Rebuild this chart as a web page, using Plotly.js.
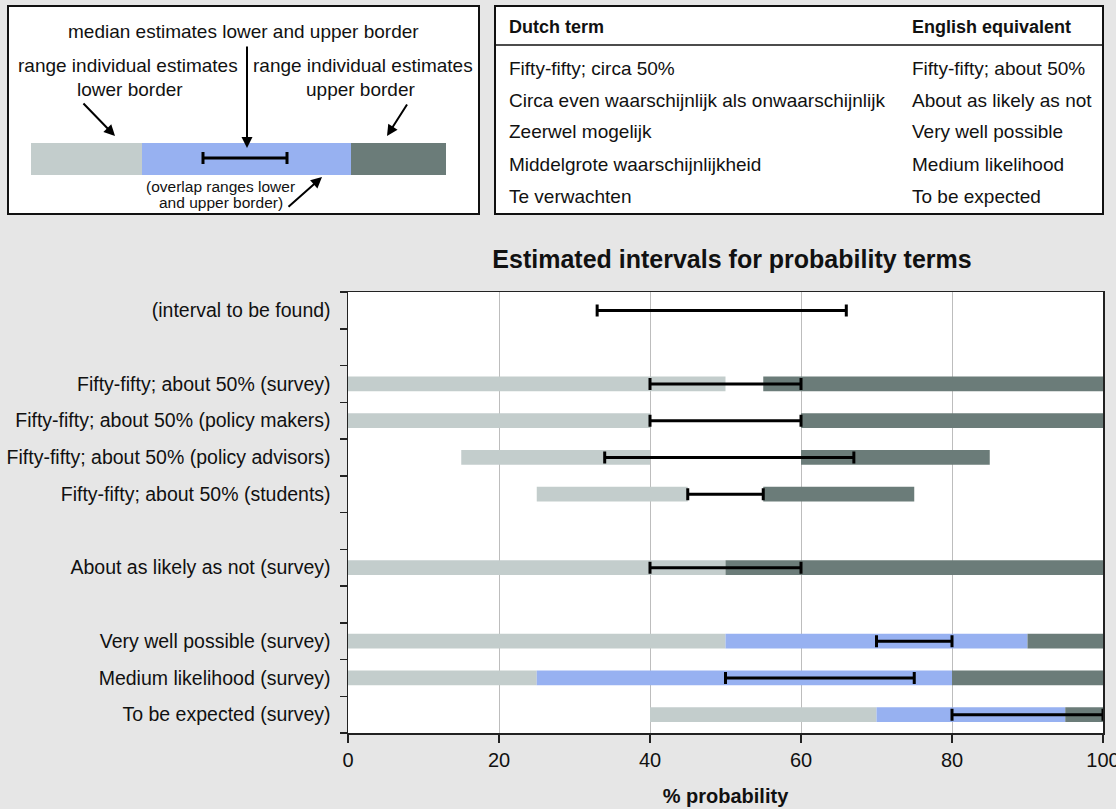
<!DOCTYPE html>
<html>
<head>
<meta charset="utf-8">
<script src="https://cdn.plot.ly/plotly-3.0.1.min.js"></script>
<style>
  html, body { margin: 0; padding: 0; background: #e6e6e6; }
  #chart { width: 1116px; height: 809px; }
</style>
</head>
<body>
<div id="chart"></div>
<script>
// ---------- data ----------
const categories = [
  "(interval to be found)",
  "",
  "Fifty-fifty; about 50% (survey)",
  "Fifty-fifty; about 50% (policy makers)",
  "Fifty-fifty; about 50% (policy advisors)",
  "Fifty-fifty; about 50% (students)",
  "",
  "About as likely as not (survey)",
  "",
  "Very well possible (survey)",
  "Medium likelihood (survey)",
  "To be expected (survey)"
];
// range of individual estimates for the lower border
const lowerMin = [null, null, 0, 0, 15, 25, null, 0, null, 0, 0, 40];
const lowerMax = [null, null, 50, 40, 40, 45, null, 50, null, 90, 80, 95];
// range of individual estimates for the upper border
const upperMin = [null, null, 55, 60, 60, 55, null, 50, null, 50, 25, 70];
const upperMax = [null, null, 100, 100, 85, 75, null, 100, null, 100, 100, 100];
// median estimates lower and upper border
const medianLow  = [33, null, 40, 40, 34, 45, null, 40, null, 70, 50, 80];
const medianHigh = [66, null, 60, 60, 67, 55, null, 60, null, 80, 75, 100];

const xTicks = [0, 20, 40, 60, 80, 100];

const tableDutch = ["Fifty-fifty; circa 50%", "Circa even waarschijnlijk als onwaarschijnlijk",
  "Zeerwel mogelijk", "Middelgrote waarschijnlijkheid", "Te verwachten"];
const tableEnglish = ["Fifty-fifty; about 50%", "About as likely as not",
  "Very well possible", "Medium likelihood", "To be expected"];

// ---------- styling ----------
const FONT = "Liberation Sans, Arial, Helvetica, sans-serif";
const C_LOW = "#c3cdcc", C_OVL = "#97b1f1", C_UP = "#6b7c79";

const idx = categories.map((_, i) => i);

// segments derived from the ranges
const lightBase = [], lightLen = [], blueBase = [], blueLen = [], darkBase = [], darkLen = [];
idx.forEach(i => {
  if (lowerMin[i] === null) {
    lightBase.push(null); lightLen.push(null); blueBase.push(null); blueLen.push(null);
    darkBase.push(null); darkLen.push(null); return;
  }
  const lEnd = Math.min(lowerMax[i], upperMin[i]);
  lightBase.push(lowerMin[i]); lightLen.push(lEnd - lowerMin[i]);
  if (upperMin[i] < lowerMax[i]) { blueBase.push(upperMin[i]); blueLen.push(lowerMax[i] - upperMin[i]); }
  else { blueBase.push(null); blueLen.push(null); }
  const dStart = Math.max(lowerMax[i], upperMin[i]);
  darkBase.push(dStart); darkLen.push(upperMax[i] - dStart);
});

function barTrace(base, len, color) {
  return {
    type: "bar", orientation: "h", y: idx, x: len, base: base,
    width: 0.4, marker: { color: color, line: { width: 0 } },
    hoverinfo: "skip", showlegend: false
  };
}

const traces = [
  barTrace(lightBase, lightLen, C_LOW),
  barTrace(blueBase, blueLen, C_OVL),
  barTrace(darkBase, darkLen, C_UP),
  {
    type: "scatter", mode: "markers", y: idx, x: medianLow,
    marker: { size: 2, opacity: 0 },
    error_x: {
      type: "data", symmetric: false,
      array: medianHigh.map((h, i) => h === null ? null : h - medianLow[i]),
      arrayminus: medianLow.map(v => v === null ? null : 0),
      color: "#000", thickness: 3, width: 6
    },
    hoverinfo: "skip", showlegend: false
  }
];

// ---------- page geometry (plot area in pixels) ----------
const L = 348, T = 292, W = 755, H = 441;
const px = x => (x - L) / W;
const py = y => (T + H - y) / H;

const shapes = [];
const annotations = [];

// left (legend) box and right (table) box
shapes.push({ type: "rect", xref: "paper", yref: "paper", x0: px(8), x1: px(479), y0: py(214), y1: py(6),
  fillcolor: "#ffffff", line: { color: "#111", width: 2 }, layer: "below" });
shapes.push({ type: "rect", xref: "paper", yref: "paper", x0: px(495), x1: px(1103), y0: py(214), y1: py(6),
  fillcolor: "#ffffff", line: { color: "#111", width: 2 }, layer: "below" });
shapes.push({ type: "line", xref: "paper", yref: "paper", x0: px(495), x1: px(1103), y0: py(45), y1: py(45),
  line: { color: "#111", width: 1.5 } });

// legend bar
[[31, 142, C_LOW], [142, 351, C_OVL], [351, 446, C_UP]].forEach(s => {
  shapes.push({ type: "rect", xref: "paper", yref: "paper", x0: px(s[0]), x1: px(s[1]), y0: py(175), y1: py(143),
    fillcolor: s[2], line: { width: 0 } });
});
shapes.push({ type: "line", xref: "paper", yref: "paper", x0: px(203), x1: px(287), y0: py(158), y1: py(158),
  line: { color: "#000", width: 3 } });
[203, 287].forEach(x => shapes.push({ type: "line", xref: "paper", yref: "paper", x0: px(x), x1: px(x),
  y0: py(152), y1: py(164), line: { color: "#000", width: 3 } }));

function txt(text, x, y, opts) {
  annotations.push(Object.assign({
    text: text, xref: "paper", yref: "paper", x: px(x), y: py(y),
    xanchor: "center", yanchor: "middle", showarrow: false,
    font: { family: FONT, size: 19, color: "#111" }
  }, opts || {}));
}
txt("median estimates lower and upper border", 243, 31);
txt("range individual estimates", 128, 66);
txt("lower border", 130, 89);
txt("range individual estimates", 363, 66);
txt("upper border", 360, 89);
txt("(overlap ranges lower", 220, 186, { font: { family: FONT, size: 15.5, color: "#111" } });
txt("and upper border)", 221, 203, { font: { family: FONT, size: 15.5, color: "#111" } });

function arrow(hx, hy, tx, ty) {
  annotations.push({
    text: "", xref: "paper", yref: "paper", x: px(hx), y: py(hy),
    ax: tx - hx, ay: ty - hy, showarrow: true,
    arrowhead: 2, arrowsize: 1.1, arrowwidth: 2, arrowcolor: "#000", standoff: 0, startstandoff: 0
  });
}
arrow(115, 136, 82, 102);
arrow(247, 148, 247, 45);
arrow(387, 136, 408, 103);
arrow(322, 177, 287, 208);

// table
txt("<b>Dutch term</b>", 507, 27, { xanchor: "left", font: { family: FONT, size: 18, color: "#111" } });
txt("<b>English equivalent</b>", 910, 27, { xanchor: "left", font: { family: FONT, size: 18, color: "#111" } });
const rowY = [69, 101, 132, 164, 196];
tableDutch.forEach((t, i) => txt(t, 507, rowY[i], { xanchor: "left" }));
tableEnglish.forEach((t, i) => txt(t, 910, rowY[i], { xanchor: "left" }));

const boundaries = [];
for (let b = -0.5; b <= categories.length - 0.5; b += 1) boundaries.push(b);

const layout = {
  width: 1116, height: 809,
  margin: { l: L, r: 1116 - L - W, t: T, b: 809 - T - H, pad: 0 },
  paper_bgcolor: "#e6e6e6", plot_bgcolor: "#ffffff",
  font: { family: FONT, size: 19, color: "#111" },
  barmode: "overlay", hovermode: false,
  title: {
    text: "<b>Estimated intervals for probability terms</b>",
    font: { family: FONT, size: 25, color: "#111" },
    xref: "container", yref: "container", x: 732 / 1116, y: 1 - 259 / 809,
    xanchor: "center", yanchor: "middle"
  },
  xaxis: {
    range: [0, 100], tickmode: "array", tickvals: xTicks, ticktext: xTicks.map(String),
    ticks: "outside", ticklen: 8, tickwidth: 1.5, tickcolor: "#222",
    ticklabeloverflow: "allow",
    showgrid: true, gridcolor: "#bdbdbd", gridwidth: 1,
    showline: true, linecolor: "#222", linewidth: 1.5, mirror: true, zeroline: false,
    tickfont: { family: FONT, size: 20, color: "#111" },
    title: { text: "<b>% probability</b>", font: { family: FONT, size: 20, color: "#111" }, standoff: 19 },
    fixedrange: true
  },
  yaxis: {
    range: [categories.length - 0.5, -0.5],
    tickmode: "array", tickvals: idx, ticktext: categories,
    ticks: "outside", ticklen: 12, tickcolor: "rgba(0,0,0,0)",
    minor: { tickmode: "array", tickvals: boundaries, ticks: "outside", ticklen: 7, tickwidth: 1.5, tickcolor: "#222", showgrid: false },
    showgrid: false, showline: true, linecolor: "#222", linewidth: 1.5, mirror: true, zeroline: false,
    tickfont: { family: FONT, size: 19.5, color: "#111" },
    fixedrange: true
  },
  shapes: shapes,
  annotations: annotations
};

Plotly.newPlot("chart", traces, layout, { staticPlot: true, displayModeBar: false });
</script>
</body>
</html>
